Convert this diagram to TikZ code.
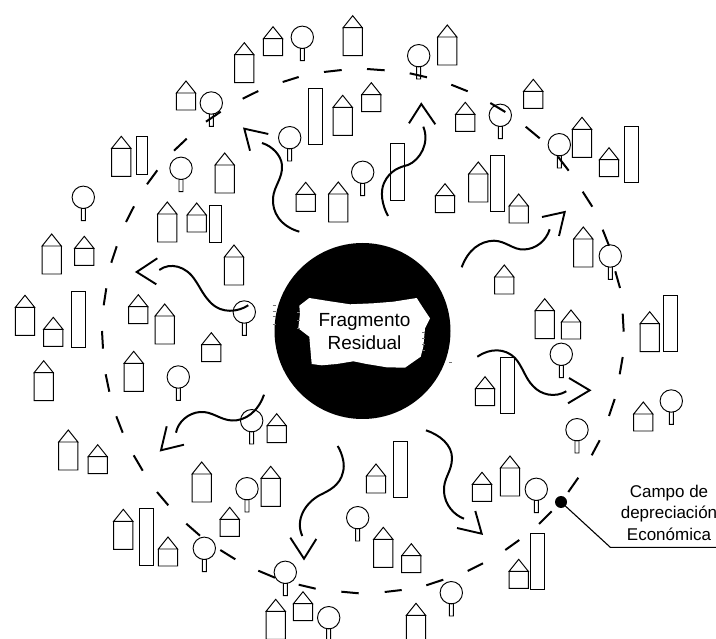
\documentclass[tikz,border=0pt]{standalone}
\usepackage{fontspec}
\setmainfont{Liberation Sans}
\tikzset{
  edif/.style={draw=black,line width=0.95pt,line join=miter},
  ring/.style={draw=black,line width=2pt},
  onda/.style={draw=black,line width=2pt},
  chev/.style={draw=black,line width=1.9pt,line join=miter},
  pelo/.style={draw=black!55,line width=0.35pt},
  rot/.style={font=\fontsize{17}{20}\selectfont,align=center,inner sep=0pt},
}
\newcommand\casa[2]{\draw[edif] (#1-9.6,#2+12)--(#1,#2)--(#1+9.6,#2+12)--cycle (#1-9.6,#2+12) rectangle (#1+9.6,#2+29);}
\newcommand\alta[2]{\draw[edif] (#1-9.6,#2+12)--(#1,#2)--(#1+9.6,#2+12)--cycle (#1-9.6,#2+12) rectangle (#1+9.6,#2+40);}
\newcommand\arbol[2]{\draw[edif] (#1,#2) circle[radius=11.2pt] (#1-2,#2+11) rectangle (#1+2,#2+23.3);}
\begin{document}
\begin{tikzpicture}[x=1pt,y=-1pt]
\useasboundingbox (0,0) rectangle (716,639);
% houses
\foreach \a/\b in {273/26.7,186/81,305.7/182.3,84.3/236.3,196.7/203,138.3/294.7,53.3/317.3,
  371.3/82.7,465.3/102.3,533.3/79.3,609/147.7,445/183.7,518.7/194,504.3/265,571/310,
  485/376.7,643.3/402,376/464,482/472.3,411.3/543.7,518.7/559.3,
  211.3/332.7,276.7/413.7,97.7/444.7,229.7/507.3,168/537,303/591.7} {\casa{\a}{\b}}
\foreach \a/\b in {244.3/42.7,352.7/15.7,342.7/95.3,121.3/136.3,224.7/153,338.3/182,167.3/202,
  51.7/234,234/245,25/295.3,164.7/304,
  447.3/25,582/117.3,478.3/162,583.3/227,544.7/298.7,649.7/311.7,
  510/456,383.3/527.3,416/603.3,
  133.7/351.3,43.7/360.7,68.3/430,201.7/462,270.7/466.3,123.3/509.3,275.7/599.3} {\alta{\a}{\b}}
% bars
\foreach \a/\b/\w/\h in {308.3/88.3/13.8/56.3,136.7/136.7/11/37.7,209.3/205.3/11.7/37,71.3/291.3/14/56,
  390.3/143.7/14/56.3,490.3/155.3/14/56.3,624.7/126.3/14/56.3,663/295.7/14/56,
  500.7/357/14/56.3,393/441.3/14/56.3,530/533.3/14/56.3,139.7/508.7/14/56.3}
  {\draw[edif] (\a,\b) rectangle (\a+\w,\b+\h);}
% trees
\foreach \a/\b in {302.3/37.3,211.3/103,289.7/137.7,181/168.3,83.3/197.3,244.3/312,362.7/172.3,
  418.7/55.7,500.3/115.3,559.3/144.7,610.3/256,
  561.3/354.3,671.3/401,577/429.7,536.3/489.3,451.3/592.7,357.7/517.7,
  178.3/377,251.7/420.7,247/488.7,204.3/548.3,285.3/572.3,328.7/617.7} {\arbol{\a}{\b}}
% ring of dashes
\foreach \p/\q/\r/\s in {341.7/70/324/72, 298.7/77/282.7/82, 258.3/91/242.7/98.7, 220.7/111.7/206/121.7,
  186.7/138.7/174/150.7, 157.3/170.3/147/184.3, 134/206.3/126/222, 116.7/246.3/111.3/262.7,
  106.3/288.3/103.7/305.3, 102/331/103/348.7, 105.7/374.3/109.3/391.7, 116.3/416.3/122.7/432.7,
  133.7/455.3/142.7/470.7, 157/492/168.3/505.3, 186.3/523.7/200/535.7, 220.3/550/235.3/559.3,
  258.3/570.7/275/577.7, 298.7/584.7/315.7/588.7, 341.3/591.7/358.7/593.3, 384.7/592/401.7/590,
  426.3/585.3/443.3/579.7, 467.7/571/483/563.3, 505.3/550/519.3/540, 539/524/551.7/511.3,
  568.3/492/578.3/477.7, 591.7/455.3/599.7/440.3, 609/416/614.7/399, 619.7/374.3/622.7/357,
  622.7/313.7/623.7/331.7, 615.3/271.3/620/288, 602.7/229.7/609/245.7, 582.7/191.7/592.3/206.7,
  558/156.7/568.7/170.7, 525.7/126.7/539.7/138.3, 490.3/103/505.3/112, 451.3/84.7/467.7/91.3,
  409.7/73.3/427/77.3, 367/69/384.7/70.3} {\draw[ring] (\p,\q)--(\r,\s);}
% central disc
\fill[black] (362.5,331) circle[radius=88pt];
\foreach \y in {305,311,316,324} {\draw[pelo] (272.5,\y)--(276,\y);}
\foreach \y in {362} {\draw[pelo] (449,\y)--(451.5,\y);}
\fill[white] (309.3,298)--(330,301.3)--(350,304.3)--(373.3,303.3)--(393.3,301.7)--(416.7,298)
  --(423.3,308.3)--(430,318.3)--(425,328.3)--(423.3,346.7)--(420.7,356.7)--(405,367.7)
  --(386.7,367.3)--(366.7,364)--(353.3,361.3)--(336.7,364)--(321.7,365.3)--(311.7,364)
  --(309.3,336.7)--(298.3,328.3)--(300,313.3)--(299.3,305.7)--cycle;
\foreach \y in {312,320,328} {\draw[pelo] (297,\y)--(300,\y);}
\foreach \y in {332,338,344,350} {\draw[pelo] (422,\y)--(425,\y);}
\node[font=\fontsize{19}{22.5}\selectfont,align=center,inner sep=0pt] (frag) at (364.5,331.5) {Fragmento\\Residual};
% wavy arrows
\draw[onda] (299.3,231.7) .. controls (280,226) and (272,212) .. (273,198) .. controls (274,186) and (283,178) .. (282,165) .. controls (281,155) and (272,146) .. (262,143);
\draw[chev] (268.3,134)--(244.3,128.7)--(250,150.7);
\draw[onda] (388,216) .. controls (382,205) and (380,192) .. (384,183) .. controls (390,170) and (400,167) .. (408,165) .. controls (420,160) and (430,143) .. (423.3,126.7);
\draw[chev] (409,123.3)--(421.3,104)--(435.3,124.3);
\draw[onda] (461.7,267.3) .. controls (468,250) and (480,241) .. (494,240.7) .. controls (506,241) and (513,250) .. (524,249.5) .. controls (536,249) and (546,241) .. (549.7,229.3);
\draw[chev] (542,217)--(564.7,212)--(559,236);
\draw[onda] (477.3,356.7) .. controls (490,348) and (505,348) .. (515,358) .. controls (523,367) and (525,378) .. (533,386) .. controls (541,395) and (555,398) .. (566.3,391.3);
\draw[chev] (569,378)--(589.7,390.3)--(568,403.3);
\draw[onda] (426,430.3) .. controls (440,435) and (452,445) .. (452,458) .. controls (452,472) and (443,478) .. (444,492) .. controls (445,505) and (454,515) .. (464,518.7);
\draw[chev] (475.3,511)--(481.7,533.7)--(457,528);
\draw[onda] (337.7,446) .. controls (343,455) and (345,465) .. (343,472) .. controls (340,486) and (328,491) .. (320,495) .. controls (305,503) and (295,520) .. (302.3,536);
\draw[chev] (290.3,537.7)--(304,558.7)--(316.3,539);
\draw[onda] (264,394.7) .. controls (258,412) and (245,421) .. (232,420.5) .. controls (220,420) and (212,411) .. (200,412) .. controls (188,413) and (178,422) .. (176,432.7);
\draw[chev] (166.7,426.3)--(161,450.3)--(184,444.7);
\draw[onda] (248.3,305.3) .. controls (238,312) and (222,314) .. (211,303) .. controls (203,295) and (200,287) .. (195,280) .. controls (186,266) and (170,262) .. (159.3,270);
\draw[chev] (157.3,258.3)--(136.7,272)--(156.3,284.3);
% callout
\node[circle,fill=black,minimum size=12pt,inner sep=0pt] (punto) at (561,502) {};
\coordinate (codo) at (610.3,547.3);
\coordinate (fin) at (716,547.3);
\draw[line width=1.1pt] (punto.center)--(codo)--(fin);
\node[rot] (t1) at (669,493.3) {Campo de};
\node[rot] (t2) at (669,514) {depreciación};
\node[rot] (t3) at (669,534) {Económica};
\end{tikzpicture}
\end{document}
